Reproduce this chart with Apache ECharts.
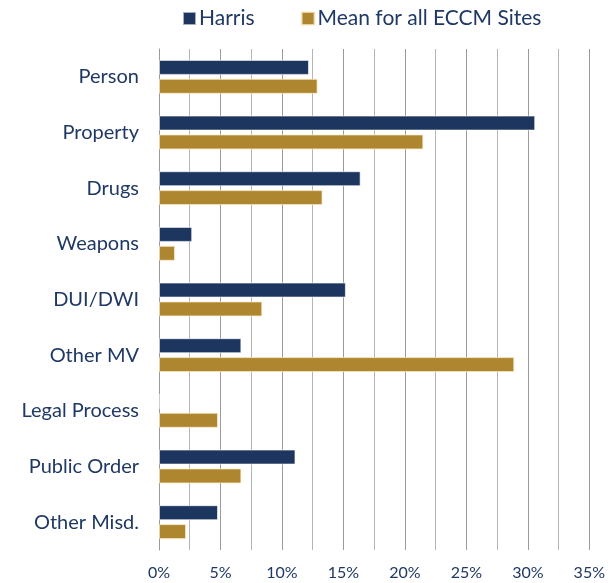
<!doctype html>
<html lang="en">
  <head>
    <meta charset="utf-8">
    <title>Harris vs ECCM Mean</title>
    <script src="https://cdn.jsdelivr.net/npm/echarts@6.0.0/dist/echarts.min.js"></script>
    <style>
      html, body {
        width: 100%;
        height: 100%;
        margin: 0;
        background: #fff;
      }

      #chart {
        width: 608px;
        height: 583px;
      }
    </style>
  </head>
  <body>
    <div id="chart"></div>
    <script>
      const categories = ['Person', 'Property', 'Drugs', 'Weapons', 'DUI/DWI', 'Other MV', 'Legal Process', 'Public Order', 'Other Misd.'];
      const harris = [12.2, 30.6, 16.4, 2.7, 15.2, 6.7, 0, 11.1, 4.8];
      const eccmMean = [12.9, 21.5, 13.3, 1.3, 8.4, 28.9, 4.8, 6.7, 2.2];
      const seriesNames = ['Harris', 'Mean for all ECCM Sites'];

      const navy = '#1d365f';
      const gold = '#ae862f';
      const textColor = '#1f3864';
      const font = 'Lato, "Open Sans", sans-serif';

      let chart = echarts.init(document.getElementById('chart'), null, {renderer: 'canvas'});

      let option = {
        animation: false,
        textStyle: {
          fontFamily: font
        },
        legend: {
          top: 3,
          left: 177,
          itemWidth: 13,
          itemHeight: 13,
          itemGap: 46,
          icon: 'rect',
          textStyle: {
            color: textColor,
            fontSize: 21,
            fontFamily: font,
            padding: [0, 0, 0, -2]
          },
          data: seriesNames
        },
        grid: {
          left: 159,
          right: 12,
          top: 49,
          bottom: 33
        },
        xAxis: {
          type: 'value',
          min: 0,
          max: 35,
          interval: 5,
          axisLine: {show: false},
          axisTick: {show: false},
          axisLabel: {
            color: textColor,
            fontSize: 16,
            margin: 15,
            formatter: (value) => value + '%'
          },
          splitLine: {
            lineStyle: {
              color: '#9a9a9a',
              width: 1
            }
          },
          minorTick: {
            show: false,
            splitNumber: 2
          },
          minorSplitLine: {
            show: true,
            lineStyle: {
              color: '#b4b4b4',
              width: 1
            }
          }
        },
        yAxis: {
          type: 'category',
          inverse: true,
          data: categories,
          axisLine: {
            show: true,
            lineStyle: {color: '#9a9a9a'}
          },
          axisTick: {show: false},
          axisLabel: {
            color: textColor,
            fontSize: 20,
            margin: 20
          }
        },
        series: [
          {
            name: seriesNames[0],
            type: 'bar',
            data: harris,
            barWidth: 15,
            barGap: '26%',
            itemStyle: {
              color: navy,
              borderColor: 'rgba(255,255,255,0.6)',
              borderWidth: 1
            }
          },
          {
            name: seriesNames[1],
            type: 'bar',
            data: eccmMean,
            barWidth: 15,
            itemStyle: {
              color: gold,
              borderColor: 'rgba(255,240,210,0.7)',
              borderWidth: 1
            }
          }
        ]
      };

      chart.setOption(option);
    </script>
  </body>
</html>
